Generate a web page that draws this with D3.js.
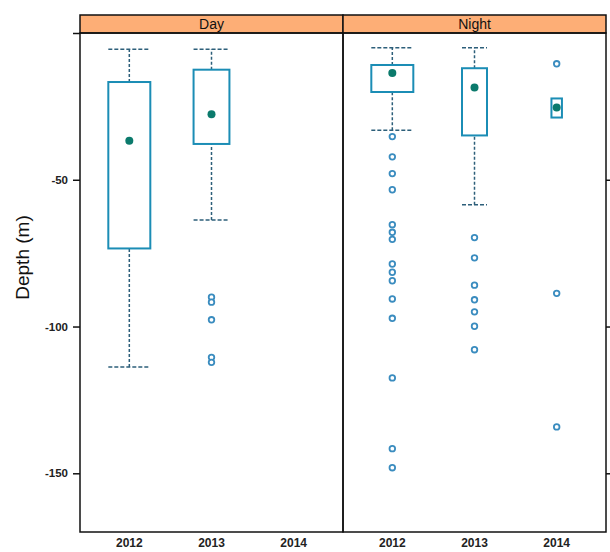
<!DOCTYPE html>
<html>
<head>
<meta charset="UTF-8">
<script src="https://d3js.org/d3.v7.min.js"></script>
<style>
  body { margin: 0; background: #fff; font-family: "Liberation Sans", Arial, sans-serif; }
  .tick-label { font-size: 11.5px; font-weight: bold; fill: #222; }
  .strip-label { font-size: 14px; fill: #111; }
</style>
</head>
<body>
<div id="chart"></div>
<script>
// ---- data ----
const panels = ["Day", "Night"];
const years = ["2012", "2013", "2014"];
const yTicks = [0, -50, -100, -150];

// [lower whisker, Q1, median, Q3, upper whisker]
const dayStats = [
    [-113.8, -73.4, -36.7, -16.7, -5.5],
    [-63.7, -37.8, -27.7, -12.5, -5.5],
    null
];
const nightStats = [
    [-33.1, -20.1, -13.6, -10.9, -5],
    [-58.5, -34.9, -18.6, -12.0, -5],
    [-28.8, -28.8, -25.4, -22.3, -22.3]
];
const dayOutliers = [
    [],
    [-90.0, -91.7, -97.7, -110.5, -112.2],
    []
];
const nightOutliers = [
    [-35.3, -42.2, -47.9, -53.4, -65.3, -67.9, -70.3, -78.7, -81.5, -84.4, -90.6, -97.2, -117.5, -141.6, -148.1],
    [-69.7, -76.6, -85.9, -90.9, -95.0, -99.9, -107.9],
    [-10.5, -88.7, -134.2]
];
// sample sizes (box width ~ sqrt(n))
const dayN = [48, 35, 0];
const nightN = [48, 17, 3];

const stats = [dayStats, nightStats];
const outliers = [dayOutliers, nightOutliers];
const counts = [dayN, nightN];

// ---- layout ----
const W = 610, H = 552;
const plotLeft = 80, plotRight = 606;
const stripTop = 15, stripH = 18;
const plotTop = stripTop + stripH, plotBottom = 532;
const panelW = (plotRight - plotLeft) / panels.length;

const boxColor = "#1b8db5";
const whiskColor = "#2d5f7a";
const medColor = "#0b7a6c";
const ptColor = "#3a8cbf";

const svg = d3.select("#chart").append("svg")
    .attr("width", W)
    .attr("height", H);

const y = d3.scaleLinear()
    .domain([-170, 0])
    .range([plotBottom, plotTop]);

const maxN = d3.max(counts.flat());
const wScale = d3.scaleSqrt().domain([0, maxN]).range([0, 42]);

panels.forEach((panel, p) => {
    const x0 = plotLeft + p * panelW;
    const x = d3.scalePoint()
        .domain(years)
        .range([x0, x0 + panelW])
        .padding(0.6);

    const g = svg.append("g");

    // strip
    g.append("rect")
        .attr("x", x0).attr("y", stripTop)
        .attr("width", panelW).attr("height", stripH)
        .attr("fill", "#fdae76")
        .attr("stroke", "#111").attr("stroke-width", 1.5);
    g.append("text")
        .attr("class", "strip-label")
        .attr("x", x0 + panelW / 2).attr("y", stripTop + stripH / 2 + 1)
        .attr("text-anchor", "middle")
        .attr("dominant-baseline", "middle")
        .text(panel);

    // boxes
    years.forEach((yr, i) => {
        const s = stats[p][i];
        const cx = x(yr);
        const bw = wScale(counts[p][i]);
        if (s) {
            const [lo, q1, med, q3, hi] = s;
            // whiskers
            [[lo, q1], [q3, hi]].forEach(([a, b]) => {
                if (a === b) return;
                g.append("line")
                    .attr("x1", cx).attr("x2", cx)
                    .attr("y1", y(a)).attr("y2", y(b))
                    .attr("stroke", whiskColor).attr("stroke-width", 1.5)
                    .attr("stroke-dasharray", "3,2");
            });
            [lo, hi].forEach(v => {
                if (v === q1 || v === q3) return;
                g.append("line")
                    .attr("x1", cx - bw / 2).attr("x2", cx + bw / 2)
                    .attr("y1", y(v)).attr("y2", y(v))
                    .attr("stroke", whiskColor).attr("stroke-width", 1.5)
                    .attr("stroke-dasharray", "4,2");
            });
            g.append("rect")
                .attr("x", cx - bw / 2).attr("y", y(q3))
                .attr("width", bw).attr("height", y(q1) - y(q3))
                .attr("fill", "#fff")
                .attr("stroke", boxColor).attr("stroke-width", 2);
            g.append("circle")
                .attr("cx", cx).attr("cy", y(med))
                .attr("r", 4)
                .attr("fill", medColor);
        }
        outliers[p][i].forEach(v => {
            g.append("circle")
                .attr("cx", cx).attr("cy", y(v))
                .attr("r", 2.8)
                .attr("fill", "#fff")
                .attr("stroke", ptColor).attr("stroke-width", 1.8);
        });
    });

    // x labels
    years.forEach(yr => {
        g.append("text")
            .attr("class", "tick-label")
            .style("font-size", "12px")
            .attr("x", x(yr)).attr("y", 547)
            .attr("text-anchor", "middle")
            .text(yr);
    });

    // panel frame
    g.append("rect")
        .attr("x", x0).attr("y", plotTop)
        .attr("width", panelW).attr("height", plotBottom - plotTop)
        .attr("fill", "none")
        .attr("stroke", "#111").attr("stroke-width", 1.5);
});

// left axis
const left = svg.append("g")
    .attr("transform", `translate(${plotLeft},0)`)
    .call(d3.axisLeft(y)
        .tickValues(yTicks)
        .tickSize(7)
        .tickPadding(5)
        .tickFormat(d => d === 0 ? "" : d));
left.select(".domain").remove();
left.selectAll(".tick line").attr("stroke", "#111").attr("stroke-width", 1.5);
left.selectAll(".tick text").attr("class", "tick-label").attr("font-family", null).attr("font-size", null).attr("fill", null);

// right axis (ticks only)
const right = svg.append("g")
    .attr("transform", `translate(${plotRight},0)`)
    .call(d3.axisRight(y)
        .tickValues(yTicks.filter(d => d !== 0))
        .tickSize(6)
        .tickFormat(""));
right.select(".domain").remove();
right.selectAll(".tick line").attr("stroke", "#111").attr("stroke-width", 1.5);

// y axis title
svg.append("text")
    .attr("transform", `translate(29, ${(plotTop + plotBottom) / 2 - 25}) rotate(-90)`)
    .attr("text-anchor", "middle")
    .style("font-size", "19px")
    .style("fill", "#111")
    .text("Depth (m)");
</script>
</body>
</html>
